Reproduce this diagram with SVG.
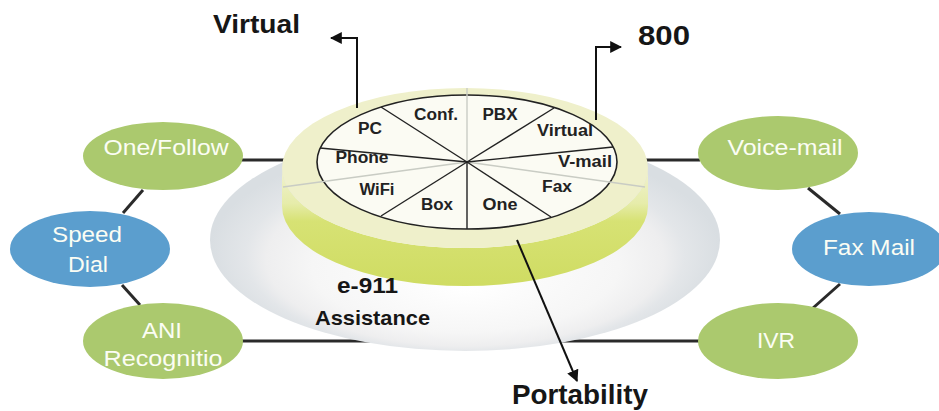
<svg xmlns="http://www.w3.org/2000/svg" width="939" height="411" viewBox="0 0 939 411">
<defs>
<style>
.conn{stroke:#2a2a2a;stroke-width:3;fill:none}
.arr{stroke:#111;stroke-width:2;fill:none}
.green{fill:#abc96e}
.blue{fill:#5b9ece}
.nt{font-family:"Liberation Sans",Arial,sans-serif;font-size:22px;fill:#fbfdf4;text-anchor:middle}
.pt{font-family:"Liberation Sans",Arial,sans-serif;font-size:16px;font-weight:bold;fill:#222;text-anchor:middle}
.ot{font-family:"Liberation Sans",Arial,sans-serif;font-weight:bold;fill:#161616}
.pl{stroke:#222;stroke-width:1.4}
.plg{stroke:#c9ccc4;stroke-width:1.4}
</style>
<radialGradient id="base" cx="50%" cy="55%" r="50%" fx="50%" fy="72%">
<stop offset="0" stop-color="#ffffff"/>
<stop offset="0.6" stop-color="#f6f6f6"/>
<stop offset="0.78" stop-color="#eeeeef"/>
<stop offset="0.86" stop-color="#e3e6e9"/>
<stop offset="1" stop-color="#d9dee2"/>
</radialGradient>
<linearGradient id="side" gradientUnits="userSpaceOnUse" x1="0" y1="168" x2="0" y2="286">
<stop offset="0" stop-color="#f1f2d2"/>
<stop offset="0.3" stop-color="#e6ecaa"/>
<stop offset="0.45" stop-color="#d7e274"/>
<stop offset="1" stop-color="#cfdc62"/>
</linearGradient>
<marker id="ah" viewBox="0 0 10 10" refX="9" refY="5" markerWidth="6" markerHeight="6" orient="auto" markerUnits="strokeWidth">
<path d="M0,0 L10,5 L0,10 Z" fill="#111"/>
</marker>
</defs>
<rect width="939" height="411" fill="#ffffff"/>
<g id="connectors">
<line class="conn" x1="143" y1="190" x2="123" y2="213"/>
<line class="conn" x1="122" y1="285" x2="140" y2="305"/>
<line class="conn" x1="808" y1="188" x2="840" y2="214"/>
<line class="conn" x1="840" y1="284" x2="813" y2="308"/>
<line class="conn" x1="240" y1="160" x2="320" y2="160"/>
<line class="conn" x1="620" y1="160" x2="700" y2="160"/>
<line class="conn" x1="240" y1="341" x2="420" y2="341"/>
<line class="conn" x1="520" y1="341" x2="700" y2="341"/>
</g>
<g id="base-plate">
<ellipse cx="465" cy="240" rx="255" ry="111" fill="url(#base)"/>
</g>
<g id="hub">
<path d="M282,168 A183,80 0 0 0 648,168 L648,206 A183,80 0 0 1 282,206 Z" fill="url(#side)"/>
<ellipse cx="465" cy="168" rx="183" ry="80" fill="#eff0cb"/>
<ellipse cx="467" cy="162" rx="150" ry="67" fill="#fbfbf3" stroke="#222" stroke-width="1.6"/>
<line class="plg" x1="467" y1="162" x2="467" y2="88"/>
<line class="plg" x1="467" y1="162" x2="283" y2="187"/>
<line class="plg" x1="467" y1="162" x2="645" y2="187"/>
<line class="pl" x1="467" y1="162" x2="381" y2="107"/>
<line class="pl" x1="467" y1="162" x2="320" y2="148"/>
<line class="pl" x1="467" y1="162" x2="381" y2="216"/>
<line class="pl" x1="467" y1="162" x2="467" y2="229"/>
<line class="pl" x1="467" y1="162" x2="551" y2="217"/>
<line class="pl" x1="467" y1="162" x2="613" y2="147"/>
<line class="pl" x1="467" y1="162" x2="554" y2="108"/>
<text class="pt" x="436" y="120" textLength="44" lengthAdjust="spacingAndGlyphs">Conf.</text>
<text class="pt" x="500" y="120" textLength="35" lengthAdjust="spacingAndGlyphs">PBX</text>
<text class="pt" x="370" y="134" textLength="24" lengthAdjust="spacingAndGlyphs">PC</text>
<text class="pt" x="565" y="136" textLength="56" lengthAdjust="spacingAndGlyphs">Virtual</text>
<text class="pt" x="362" y="163" textLength="53" lengthAdjust="spacingAndGlyphs">Phone</text>
<text class="pt" x="585" y="167" textLength="54" lengthAdjust="spacingAndGlyphs">V-mail</text>
<text class="pt" x="377" y="195" textLength="35" lengthAdjust="spacingAndGlyphs">WiFi</text>
<text class="pt" x="557" y="192" textLength="30" lengthAdjust="spacingAndGlyphs">Fax</text>
<text class="pt" x="437" y="210" textLength="32" lengthAdjust="spacingAndGlyphs">Box</text>
<text class="pt" x="500" y="210" textLength="35" lengthAdjust="spacingAndGlyphs">One</text>
</g>
<g id="arrows">
<polyline class="arr" points="357,108 357,38 331,38" marker-end="url(#ah)"/>
<polyline class="arr" points="596,120 596,47 621,47" marker-end="url(#ah)"/>
<line class="arr" x1="517" y1="240" x2="577" y2="381" marker-end="url(#ah)"/>
</g>
<g id="label-virtual"><text class="ot" x="213" y="33" font-size="26" textLength="87" lengthAdjust="spacingAndGlyphs">Virtual</text></g>
<g id="label-800"><text class="ot" x="638" y="45" font-size="28" textLength="52" lengthAdjust="spacingAndGlyphs">800</text></g>
<g id="label-e911">
<text class="ot" x="337" y="293" font-size="22" textLength="61" lengthAdjust="spacingAndGlyphs">e-911</text>
<text class="ot" x="315" y="325" font-size="21" textLength="115" lengthAdjust="spacingAndGlyphs">Assistance</text>
</g>
<g id="label-portability"><text class="ot" x="512" y="404" font-size="28" textLength="136" lengthAdjust="spacingAndGlyphs">Portability</text></g>
<g id="node-onefollow">
<ellipse class="green" cx="163" cy="156" rx="80" ry="34"/>
<text class="nt" x="166" y="155" textLength="125" lengthAdjust="spacingAndGlyphs">One/Follow</text>
</g>
<g id="node-speeddial">
<ellipse class="blue" cx="90" cy="249" rx="80" ry="38"/>
<text class="nt" x="87" y="242" textLength="70" lengthAdjust="spacingAndGlyphs">Speed</text>
<text class="nt" x="88" y="272" textLength="40" lengthAdjust="spacingAndGlyphs">Dial</text>
</g>
<g id="node-ani">
<ellipse class="green" cx="163" cy="341" rx="80" ry="38"/>
<text class="nt" x="162" y="338" textLength="40" lengthAdjust="spacingAndGlyphs">ANI</text>
<text class="nt" x="163" y="366" textLength="119" lengthAdjust="spacingAndGlyphs">Recognitio</text>
</g>
<g id="node-voicemail">
<ellipse class="green" cx="778" cy="153" rx="80" ry="37"/>
<text class="nt" x="785" y="155" textLength="115" lengthAdjust="spacingAndGlyphs">Voice-mail</text>
</g>
<g id="node-faxmail">
<ellipse class="blue" cx="869" cy="249" rx="77" ry="37"/>
<text class="nt" x="869" y="255" textLength="92" lengthAdjust="spacingAndGlyphs">Fax Mail</text>
</g>
<g id="node-ivr">
<ellipse class="green" cx="778" cy="341" rx="80" ry="38"/>
<text class="nt" x="776" y="348" textLength="38" lengthAdjust="spacingAndGlyphs">IVR</text>
</g>
</svg>
